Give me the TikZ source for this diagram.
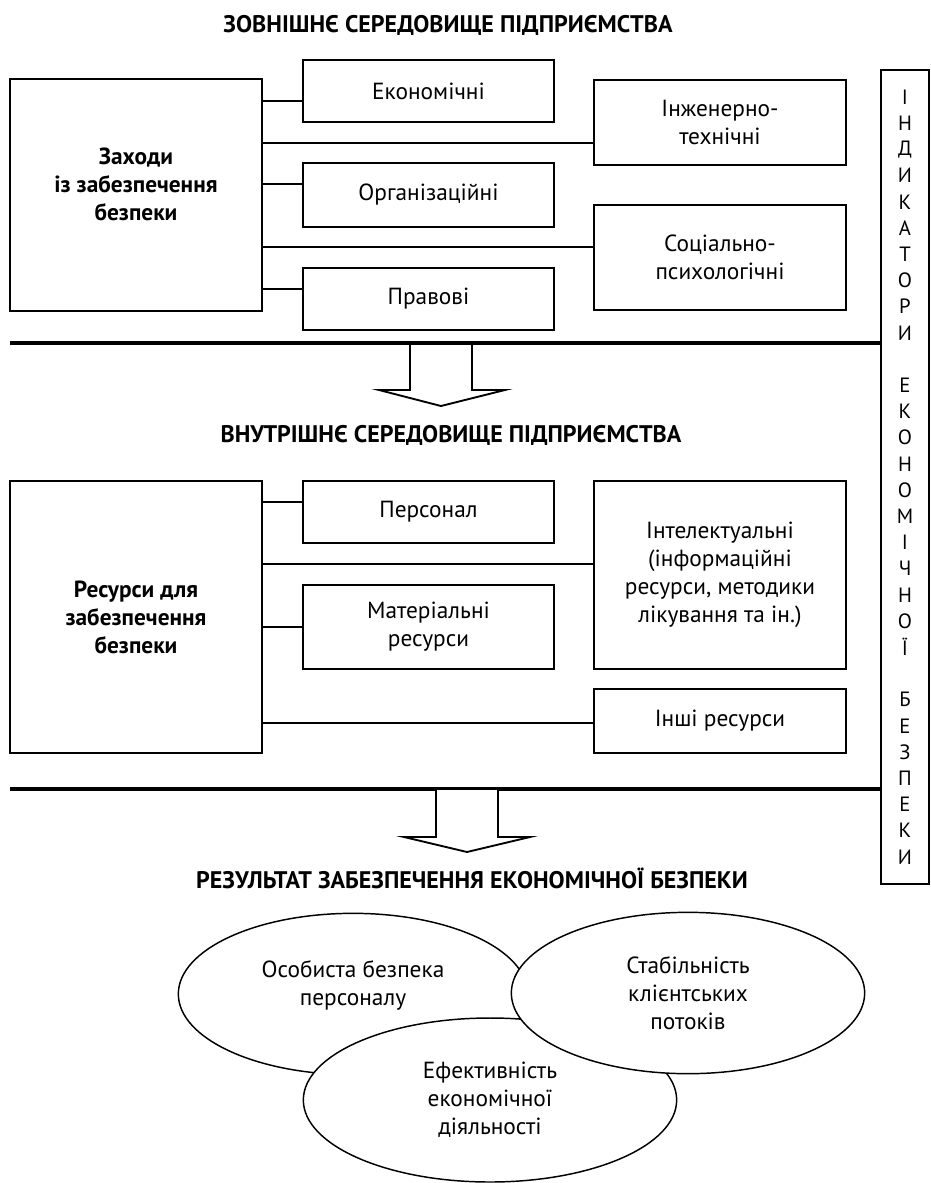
\documentclass[tikz,border=0pt]{standalone}
\usepackage{fontspec}
\setmainfont{PT Sans}
\usetikzlibrary{shapes.geometric}
\newcommand{\boxfont}{\fontsize{17.5}{21}\selectfont}
\begin{document}
\begin{tikzpicture}[x=0.75pt,y=-0.75pt,line join=miter,
  box/.style={draw,line width=1.7pt,inner sep=0pt,align=center,font=\boxfont,minimum width=188.5pt},
  link/.style={line width=0.8pt},
  sepline/.style={line width=2.6pt},
  blockarrow/.style={draw,line width=1.4pt,fill=white},
  oval/.style={ellipse,draw,line width=1.1pt,fill=white,inner sep=0pt,align=center,font=\boxfont},
  title/.style={font=\fontsize{18}{22}\selectfont\bfseries},
  letter/.style={font=\fontsize{15.5}{18}\selectfont,inner sep=0pt}]
\useasboundingbox (0,0) rectangle (931,1183);

% outer environment
\node[title] (outer) at (448,25) {ЗОВНІШНЄ СЕРЕДОВИЩЕ ПІДПРИЄМСТВА};
\node[box,minimum height=174pt] (zah) at (136,195) {};
\node[font=\boxfont\bfseries,align=center] (zahtxt) at (136,184) {Заходи\\із забезпечення\\безпеки};
\node[box,minimum height=46.5pt] (econ) at (428.5,91) {Економічні};
\node[box,minimum height=48pt] (org) at (428.5,195) {Організаційні};
\node[box,minimum height=46.5pt] (prav) at (428.5,299) {Правові};
\node[box,minimum height=63.75pt] (inzh) at (720,122.5) {Інженерно-\\технічні};
\node[box,minimum height=78.75pt] (soc) at (720,257.5) {Соціально-\\психологічні};
\draw[link] (zah.east |- 0,101) -- (econ.west |- 0,101);
\draw[link] (zah.east |- 0,143) -- (inzh.west |- 0,143);
\draw[link] (zah.east |- 0,184) -- (org.west |- 0,184);
\draw[link] (zah.east |- 0,247) -- (soc.west |- 0,247);
\draw[link] (zah.east |- 0,289) -- (prav.west |- 0,289);

% indicators
\node[draw,line width=1.6pt,inner sep=0pt,minimum width=36pt,minimum height=610.5pt] (ind) at (905,477) {};
\foreach \ch [count=\i from 0] in {І,Н,Д,И,К,А,Т,О,Р,И,,Е,К,О,Н,О,М,І,Ч,Н,О,Ї,,Б,Е,З,П,Е,К,И}
  \node[letter] (ind\i) at (905,97+26.2*\i) {\ch};

\draw[sepline] (10,343) -- (ind.west |- 0,343);
\draw[blockarrow] (410,345) -- (410,390) -- (379,390) -- (441,406) -- (505,390) -- (472,390) -- (472,345);

% inner environment
\node[title] (inner) at (451,435) {ВНУТРІШНЄ СЕРЕДОВИЩЕ ПІДПРИЄМСТВА};
\node[box,minimum height=204pt,font=\boxfont\bfseries] (res) at (136,617) {Ресурси для\\забезпечення\\безпеки};
\node[box,minimum height=46.5pt] (pers) at (428.5,512) {Персонал};
\node[box,minimum height=63pt] (mat) at (428.5,627) {Матеріальні\\ресурси};
\node[box,minimum height=141pt] (intel) at (720,575) {Інтелектуальні\\(інформаційні\\ресурси, методики\\лікування та ін.)};
\node[box,minimum height=48pt] (other) at (720,721) {Інші ресурси};
\draw[link] (res.east |- 0,502) -- (pers.west |- 0,502);
\draw[link] (res.east |- 0,564) -- (intel.west |- 0,564);
\draw[link] (res.east |- 0,627) -- (mat.west |- 0,627);
\draw[link] (res.east |- 0,723) -- (other.west |- 0,723);

\draw[sepline] (10,789) -- (ind.west |- 0,789);
\draw[blockarrow] (436,790) -- (436,837) -- (404,837) -- (467,852) -- (530,837) -- (498,837) -- (498,790);

% result
\node[title] (result) at (472,878) {РЕЗУЛЬТАТ ЗАБЕЗПЕЧЕННЯ ЕКОНОМІЧНОЇ БЕЗПЕКИ};
\node[oval,minimum width=262pt,minimum height=121pt] (pers2) at (353,994) {Особиста безпека\\персоналу\\[-4pt]};
\node[oval,minimum width=280pt,minimum height=123pt] (eff) at (490,1100) {Ефективність\\економічної\\діяльності};
\node[oval,minimum width=265pt,minimum height=121pt] (stab) at (688,993) {Стабільність\\клієнтських\\потоків};
\end{tikzpicture}
\end{document}
